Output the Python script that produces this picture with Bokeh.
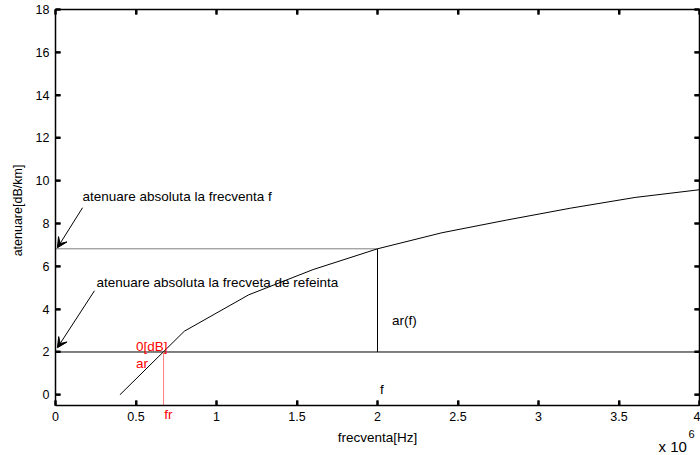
import math
from bokeh.plotting import figure
from bokeh.models import (LinearAxis, Range1d, Arrow, VeeHead, Label, FixedTicker)
from bokeh.embed import file_html
from bokeh.resources import INLINE

# ---- data (frequency in units of 10^6 Hz) ----
freq = [0.4, 0.8, 1.2, 1.6, 2.0, 2.4, 2.8, 3.2, 3.6, 4.0]
atten = [0.0, 2.97, 4.67, 5.85, 6.82, 7.57, 8.16, 8.72, 9.22, 9.58]
ar_level = 2.0          # reference attenuation
f_ref = 0.671           # fr
f_sel = 2.0             # f
a_sel = 6.82            # attenuation at f
x_ticks = [0, 0.5, 1, 1.5, 2, 2.5, 3, 3.5, 4]
x_tick_labels = ["0", "0.5", "1", "1.5", "2", "2.5", "3", "3.5", "4"]
y_ticks = [0, 2, 4, 6, 8, 10, 12, 14, 16, 18]
x_min, x_max = 0, 4
y_min, y_max = -0.5, 18

# ---- layout (pixels): axes box inside a frame that fills the canvas ----
W, H = 700, 455
BOX_L, BOX_R, BOX_T, BOX_B = 55, 699, 9, 405
px_x = (BOX_R - BOX_L) / (x_max - x_min)
px_y = (BOX_B - BOX_T) / (y_max - y_min)
x_lo = x_min - BOX_L / px_x
x_hi = x_max + (W - BOX_R) / px_x
y_hi = y_max + BOX_T / px_y
y_lo = y_min - (H - BOX_B) / px_y

def sx(px):  # pixel column -> data x
    return x_min + (px - BOX_L) / px_x

def sy(py):  # pixel row -> data y
    return y_min + (BOX_B - py) / px_y

FONT = "Liberation Sans"
FS = "13.5px"
TICK_FS = "12.5px"
TICK_LEN = 5

p = figure(width=W, height=H, output_backend="svg", toolbar_location=None,
           x_range=Range1d(x_lo, x_hi), y_range=Range1d(y_lo, y_hi),
           min_border=0, min_border_left=0, min_border_right=0,
           min_border_top=0, min_border_bottom=0)
p.xgrid.visible = False
p.ygrid.visible = False
p.outline_line_color = None
p.background_fill_color = "white"
p.border_fill_color = "white"

def style_axis(ax, labels=True):
    ax.axis_line_color = "black"
    ax.axis_line_width = 1.5
    ax.major_tick_in = TICK_LEN
    ax.major_tick_out = 0
    ax.minor_tick_in = 0
    ax.minor_tick_out = 0
    ax.major_tick_line_color = "black"
    ax.major_tick_line_width = 2
    ax.major_label_text_font = FONT
    ax.major_label_text_font_size = TICK_FS
    ax.major_label_text_color = "black"
    if not labels:
        ax.major_label_text_alpha = 0

# bottom axis
xa = p.xaxis[0]
xa.ticker = FixedTicker(ticks=x_ticks)
xa.major_label_overrides = {t: l for t, l in zip(x_ticks, x_tick_labels)}
xa.fixed_location = y_min
xa.bounds = (x_min, x_max)
style_axis(xa)
xa.major_label_standoff = 6

# left axis
ya = p.yaxis[0]
ya.ticker = FixedTicker(ticks=y_ticks)
ya.fixed_location = x_min
ya.bounds = (y_min, y_max)
style_axis(ya)
ya.major_label_standoff = 6

# top and right edges of the box
top = LinearAxis(ticker=FixedTicker(ticks=x_ticks), fixed_location=y_max, bounds=(x_min, x_max),
                 major_label_overrides={t: "" for t in x_ticks})
style_axis(top, labels=False)
p.add_layout(top, "above")
right = LinearAxis(ticker=FixedTicker(ticks=y_ticks), fixed_location=x_max, bounds=(y_min, y_max),
                   major_label_overrides={t: "" for t in y_ticks})
style_axis(right, labels=False)
p.add_layout(right, "right")

# inward tick marks also as glyphs (same positions as the axis ticks)
dx = TICK_LEN / px_x
dy = TICK_LEN / px_y
nx, ny = len(x_ticks), len(y_ticks)
p.segment(x0=x_ticks, y0=[y_min] * nx, x1=x_ticks, y1=[y_min + dy] * nx,
          line_color="black", line_width=2)
p.segment(x0=x_ticks, y0=[y_max] * nx, x1=x_ticks, y1=[y_max - dy] * nx,
          line_color="black", line_width=2)
p.segment(x0=[x_min] * ny, y0=y_ticks, x1=[x_min + dx] * ny, y1=y_ticks,
          line_color="black", line_width=2)
p.segment(x0=[x_max] * ny, y0=y_ticks, x1=[x_max - dx] * ny, y1=y_ticks,
          line_color="black", line_width=2)

# attenuation curve
p.line(freq, atten, line_color="black", line_width=1)
# reference level line
p.line([x_min, x_max], [ar_level, ar_level], line_color="black", line_width=1)
# dotted level at f
p.line([x_min, f_sel], [a_sel, a_sel], line_color="black", line_width=1, line_dash="1 1")
# vertical at f
p.line([f_sel, f_sel], [ar_level, a_sel], line_color="black", line_width=1)
# red vertical at fr
p.line([f_ref, f_ref], [y_min, ar_level], line_color="#ff8080", line_width=1)

# arrows
p.add_layout(Arrow(end=VeeHead(size=10, fill_color="black", line_color="black", line_width=1),
                   x_start=0.168, y_start=8.74, x_end=0.012, y_end=6.87,
                   line_color="black", line_width=1))
p.add_layout(Arrow(end=VeeHead(size=10, fill_color="black", line_color="black", line_width=1),
                   x_start=0.242, y_start=4.86, x_end=0.012, y_end=2.2,
                   line_color="black", line_width=1))

def lab(x, y, t, color="black", size=FS, align="left", angle=0):
    p.add_layout(Label(x=x, y=y, text=t, text_font=FONT, text_font_size=size,
                       text_color=color, text_baseline="middle", text_align=align,
                       angle=angle))

# axis titles
lab((x_min + x_max) / 2, sy(437), "frecventa[Hz]", align="center")
lab(sx(17), sy(210), "atenuare[dB/km]", size="12.5px", align="center", angle=math.pi / 2)

# annotations
lab(0.168, 9.25, "atenuare absoluta la frecventa f")
lab(0.255, 5.23, "atenuare absoluta la frecveta de refeinta")
lab(0.5, 2.25, "0[dB]", color="red")
lab(0.5, 1.45, "ar", color="red")
lab(2.09, 3.46, "ar(f)")
lab(2.015, 0.25, "f")
lab(0.675, sy(414), "fr", color="red")
lab(sx(658), sy(446), "x 10", size="15px")
lab(sx(688), sy(433), "6", size="11px")

open("out.html", "w").write(file_html(p, INLINE))
